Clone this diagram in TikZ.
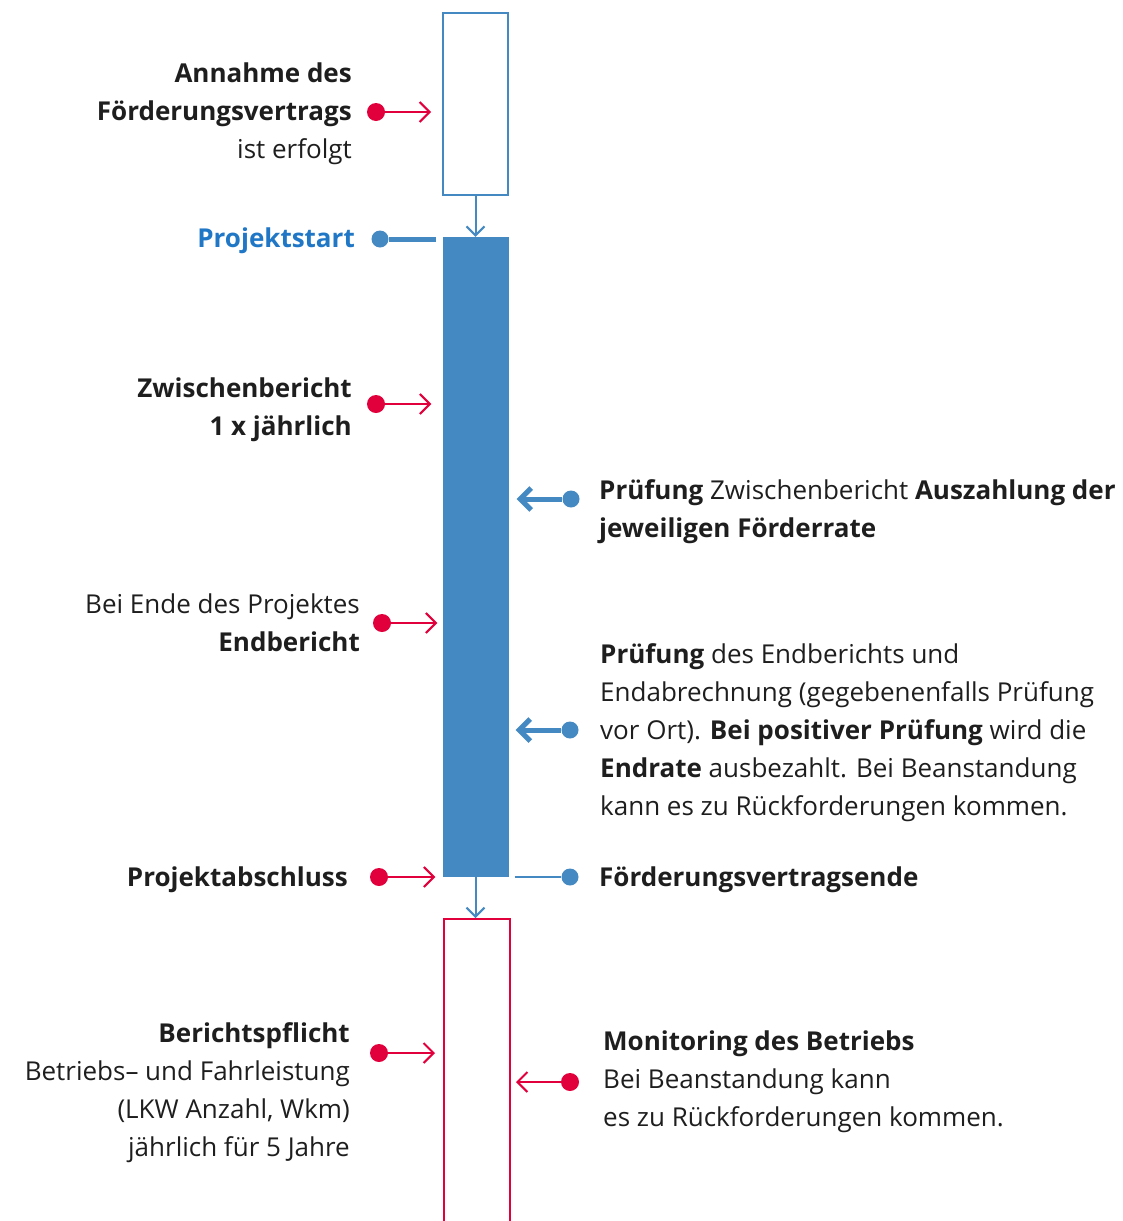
\documentclass[tikz,border=0pt]{standalone}
\usepackage{fontspec}
\setmainfont{Open Sans}
\usetikzlibrary{arrows.meta}
\definecolor{barblue}{HTML}{4589C2}
\definecolor{textblue}{HTML}{1F77C6}
\definecolor{markred}{HTML}{E2003C}
\definecolor{ink}{HTML}{1E1E1E}

\begin{document}
\begin{tikzpicture}[x=1pt,y=-1pt,
  lbl/.style={inner sep=0pt,text=ink,font=\fontsize{26}{38}\selectfont},
  lblleft/.style={lbl,anchor=east,align=right},
  lblright/.style={lbl,anchor=west,align=left},
  reddot/.style={circle,fill=markred,inner sep=0pt,minimum size=18pt},
  bluedot/.style={circle,fill=barblue,inner sep=0pt,minimum size=17pt},
  redarrow/.style={markred,line width=2pt,-{Straight Barb[length=10pt,width=20pt]}},
  bluearrow/.style={barblue,line width=5pt,-{Straight Barb[length=11pt,width=22pt]}},
  downarrow/.style={barblue,line width=2pt,-{Straight Barb[length=9pt,width=18pt]}}]
  \useasboundingbox (0,0) rectangle (1123,1221);

  % the three phases
  \node[draw=barblue,line width=2pt,minimum width=65pt,minimum height=182pt,inner sep=0pt]
    (offer) at (475.5,104) {};
  \node[fill=barblue,minimum width=66pt,minimum height=640pt,inner sep=0pt]
    (project) at (475.5,557) {};
  \node[draw=markred,line width=2pt,minimum width=66pt,minimum height=330pt,inner sep=0pt,anchor=north]
    (monitor) at (477,918) {};
  \draw[downarrow] (offer.south) -- (project.north);
  \draw[downarrow] (project.south) -- (monitor.north -| project.south);

  % left side
  \node[lblleft] (accept) at (352,114)
    {\textbf{Annahme des}\\\textbf{Förderungsvertrags}\\ist erfolgt};
  \node[reddot] (acceptdot) at (376,112) {};
  \draw[redarrow,shorten >=11pt] (acceptdot) -- (acceptdot -| offer.west);

  \node[lblleft,text=textblue,font=\fontsize{26}{38}\selectfont\bfseries] (start) at (355,241) {Projektstart};
  \node[bluedot] (startdot) at (380,239) {};
  \draw[barblue,line width=5pt,shorten >=6pt] (startdot) -- (startdot -| project.west);

  \node[lblleft,font=\fontsize{26}{38}\selectfont\bfseries] (interim) at (352,410)
    {Zwischenbericht\\1 x jährlich};
  \node[reddot] (interimdot) at (376,404) {};
  \draw[redarrow,shorten >=11pt] (interimdot) -- (interimdot -| project.west);

  \node[lblleft] (final) at (360,623)
    {Bei Ende des Projektes\\\textbf{Endbericht}};
  \node[reddot] (finaldot) at (382,623) {};
  \draw[redarrow,shorten >=5pt] (finaldot) -- (finaldot -| project.west);

  \node[lblleft,font=\fontsize{26}{38}\selectfont\bfseries] (close) at (348,880) {Projektabschluss};
  \node[reddot] (closedot) at (379,877) {};
  \draw[redarrow,shorten >=7pt] (closedot) -- (closedot -| project.west);

  \node[lblleft] (duty) at (350,1093)
    {\textbf{Berichtspflicht}\\Betriebs– und Fahrleistung\\(LKW Anzahl, Wkm)\\jährlich für 5 Jahre};
  \node[reddot] (dutydot) at (379,1053) {};
  \draw[redarrow,shorten >=8pt] (dutydot) -- (dutydot -| monitor.west);

  % right side
  \node[lblright] (check) at (599,512)
    {\textbf{Prüfung} Zwischenbericht \textbf{Auszahlung der}\\\textbf{jeweiligen Förderrate}};
  \node[bluedot] (checkdot) at (571,499) {};
  \draw[bluearrow,shorten >=8pt] (checkdot) -- (checkdot -| project.east);

  \node[lblright] (finalcheck) at (600,733)
    {\textbf{Prüfung} des Endberichts und\\Endabrechnung (gegebenenfalls Prüfung\\vor Ort). \textbf{Bei positiver Prüfung} wird die\\\textbf{Endrate} ausbezahlt. Bei Beanstandung\\kann es zu Rückforderungen kommen.};
  \node[bluedot] (finalcheckdot) at (570,730) {};
  \draw[bluearrow,shorten >=7pt] (finalcheckdot) -- (finalcheckdot -| project.east);

  \node[lblright,font=\fontsize{26}{38}\selectfont\bfseries] (contractend) at (599,880) {Förderungsvertragsende};
  \node[bluedot] (contractenddot) at (570,877) {};
  \draw[barblue,line width=2pt,shorten <=6pt] (contractenddot -| project.east) -- (contractenddot);

  \node[lblright] (monitoring) at (603,1082)
    {\textbf{Monitoring des Betriebs}\\Bei Beanstandung kann\\es zu Rückforderungen kommen.};
  \node[reddot] (monitoringdot) at (570,1082) {};
  \draw[redarrow,shorten >=5pt] (monitoringdot) -- (monitoringdot -| monitor.east);
\end{tikzpicture}
\end{document}
